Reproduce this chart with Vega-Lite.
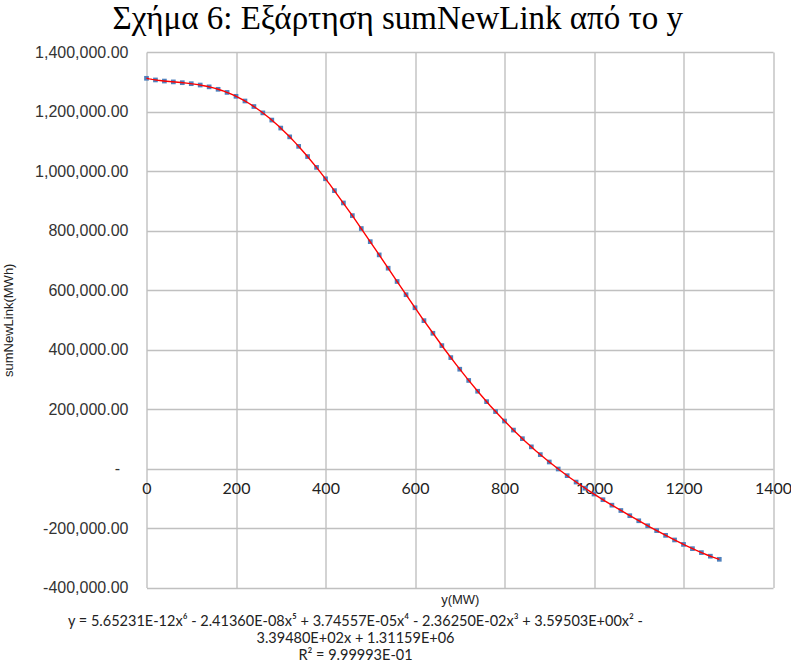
{
  "$schema": "https://vega.github.io/schema/vega-lite/v6.json",
  "width": 626.5,
  "height": 535.5,
  "autosize": "none",
  "padding": {"left": 146.5, "top": 52, "right": 18, "bottom": 80},
  "background": "white",
  "title": {
    "text": "Σχήμα 6: Εξάρτηση sumNewLink από το y",
    "font": "Liberation Serif",
    "fontSize": 33,
    "fontWeight": "normal",
    "color": "black",
    "anchor": "middle",
    "dx": -62,
    "dy": 35,
    "baseline": "alphabetic",
    "offset": 17
  },
  "data": {
    "values": [
      {"yMW": 0, "sumNewLink": 1311590},
      {"yMW": 20, "sumNewLink": 1306055},
      {"yMW": 40, "sumNewLink": 1302344},
      {"yMW": 60, "sumNewLink": 1299527},
      {"yMW": 80, "sumNewLink": 1296800},
      {"yMW": 100, "sumNewLink": 1293477},
      {"yMW": 120, "sumNewLink": 1288980},
      {"yMW": 140, "sumNewLink": 1282832},
      {"yMW": 160, "sumNewLink": 1274649},
      {"yMW": 180, "sumNewLink": 1264133},
      {"yMW": 200, "sumNewLink": 1251063},
      {"yMW": 220, "sumNewLink": 1235289},
      {"yMW": 240, "sumNewLink": 1216727},
      {"yMW": 260, "sumNewLink": 1195349},
      {"yMW": 280, "sumNewLink": 1171179},
      {"yMW": 300, "sumNewLink": 1144285},
      {"yMW": 320, "sumNewLink": 1114777},
      {"yMW": 340, "sumNewLink": 1082798},
      {"yMW": 360, "sumNewLink": 1048520},
      {"yMW": 380, "sumNewLink": 1012138},
      {"yMW": 400, "sumNewLink": 973868},
      {"yMW": 420, "sumNewLink": 933940},
      {"yMW": 440, "sumNewLink": 892593},
      {"yMW": 460, "sumNewLink": 850076},
      {"yMW": 480, "sumNewLink": 806639},
      {"yMW": 500, "sumNewLink": 762531},
      {"yMW": 520, "sumNewLink": 717999},
      {"yMW": 540, "sumNewLink": 673282},
      {"yMW": 560, "sumNewLink": 628610},
      {"yMW": 580, "sumNewLink": 584205},
      {"yMW": 600, "sumNewLink": 540271},
      {"yMW": 620, "sumNewLink": 496997},
      {"yMW": 640, "sumNewLink": 454559},
      {"yMW": 660, "sumNewLink": 413111},
      {"yMW": 680, "sumNewLink": 372789},
      {"yMW": 700, "sumNewLink": 333709},
      {"yMW": 720, "sumNewLink": 295963},
      {"yMW": 740, "sumNewLink": 259630},
      {"yMW": 760, "sumNewLink": 224760},
      {"yMW": 780, "sumNewLink": 191383},
      {"yMW": 800, "sumNewLink": 159515},
      {"yMW": 820, "sumNewLink": 129144},
      {"yMW": 840, "sumNewLink": 100250},
      {"yMW": 860, "sumNewLink": 72785},
      {"yMW": 880, "sumNewLink": 46689},
      {"yMW": 900, "sumNewLink": 21895},
      {"yMW": 920, "sumNewLink": -1691},
      {"yMW": 940, "sumNewLink": -24151},
      {"yMW": 960, "sumNewLink": -45594},
      {"yMW": 980, "sumNewLink": -66129},
      {"yMW": 1000, "sumNewLink": -85850},
      {"yMW": 1020, "sumNewLink": -104866},
      {"yMW": 1040, "sumNewLink": -123283},
      {"yMW": 1060, "sumNewLink": -141178},
      {"yMW": 1080, "sumNewLink": -158637},
      {"yMW": 1100, "sumNewLink": -175696},
      {"yMW": 1120, "sumNewLink": -192394},
      {"yMW": 1140, "sumNewLink": -208752},
      {"yMW": 1160, "sumNewLink": -224716},
      {"yMW": 1180, "sumNewLink": -240225},
      {"yMW": 1200, "sumNewLink": -255192},
      {"yMW": 1220, "sumNewLink": -269411},
      {"yMW": 1240, "sumNewLink": -282702},
      {"yMW": 1260, "sumNewLink": -294753},
      {"yMW": 1280, "sumNewLink": -305215}
    ]
  },
  "layer": [
    {
      "mark": {"type": "square", "size": 22, "color": "#4f81bd", "opacity": 1},
      "encoding": {
        "x": {
          "field": "yMW",
          "type": "quantitative",
          "scale": {"domain": [0, 1400], "nice": false},
          "axis": {
            "orient": "bottom",
            "values": [0, 200, 400, 600, 800, 1000, 1200, 1400],
            "grid": true,
            "labels": false,
            "ticks": false,
            "domain": false,
            "title": "y(MW)",
            "titleFont": "Liberation Sans",
            "titleFontSize": 13,
            "titleFontWeight": "normal",
            "titleColor": "#222222",
            "titleBaseline": "alphabetic",
            "titleY": 16
          }
        },
        "y": {
          "field": "sumNewLink",
          "type": "quantitative",
          "scale": {"domain": [-400000, 1400000], "nice": false, "zero": false},
          "axis": {
            "values": [-400000, -200000, 0, 200000, 400000, 600000, 800000, 1000000, 1200000, 1400000],
            "grid": true,
            "ticks": false,
            "domain": false,
            "labelFont": "Liberation Sans",
            "labelFontSize": 16,
            "labelColor": "#333333",
            "labelPadding": {"condition": {"test": "datum.value === 0", "value": 27}, "value": 18.5},
            "labelExpr": "datum.value === 0 ? '-' : replace(format(datum.value, ',.2f'), '\u2212', '-')",
            "title": "sumNewLink(MWh)",
            "titleFont": "Liberation Sans",
            "titleFontSize": 13,
            "titleFontWeight": "normal",
            "titleColor": "#222222",
            "titleAngle": 270,
            "titleAlign": "center",
            "titleBaseline": "middle",
            "titleX": -138.5,
            "titleY": 267.75
          }
        }
      }
    },
    {
      "transform": [
        {"regression": "sumNewLink", "on": "yMW", "method": "poly", "order": 6}
      ],
      "mark": {"type": "line", "color": "#ff0000", "strokeWidth": 1.4},
      "encoding": {
        "x": {
          "field": "yMW",
          "type": "quantitative",
          "axis": {
            "orient": "bottom",
            "offset": -118.5,
            "values": [0, 200, 400, 600, 800, 1000, 1200, 1400],
            "grid": false,
            "ticks": false,
            "domain": false,
            "labelFont": "Lato",
            "labelFontSize": 16,
            "labelColor": "#222222",
            "labelPadding": 11,
            "labelFlush": false,
            "labelOverlap": false,
            "labelExpr": "format(datum.value, 'd')",
            "title": [
              "y = 5.65231E-12x⁶ - 2.41360E-08x⁵ + 3.74557E-05x⁴ - 2.36250E-02x³ + 3.59503E+00x² -",
              "3.39480E+02x + 1.31159E+06",
              "R² = 9.99993E-01"
            ],
            "titleFont": "Lato",
            "titleFontSize": 14.5,
            "titleFontWeight": "normal",
            "titleColor": "#222222",
            "titleAlign": "center",
            "titleBaseline": "alphabetic",
            "titleLineHeight": 17,
            "titleX": 208.5,
            "titleY": 156
          }
        },
        "y": {"field": "sumNewLink", "type": "quantitative"}
      }
    }
  ],
  "resolve": {"axis": {"x": "independent"}},
  "config": {
    "view": {"stroke": null},
    "axis": {"gridColor": "#c0c0c0", "gridWidth": 1.4, "gridOpacity": 1}
  }
}
